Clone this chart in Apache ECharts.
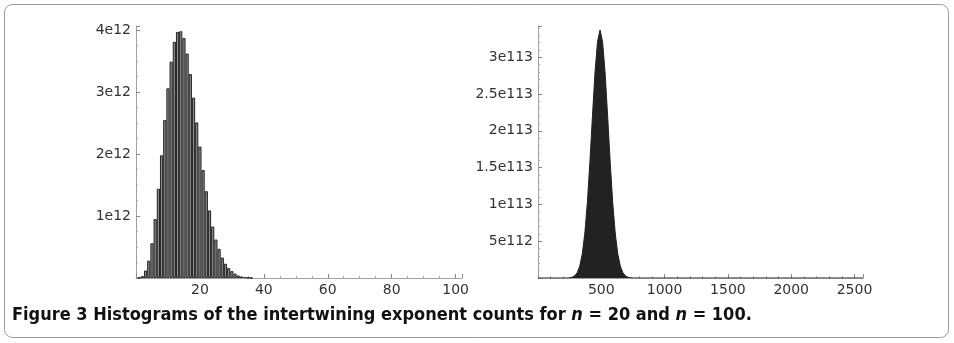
<!DOCTYPE html>
<html>
<head>
<meta charset="utf-8">
<script src="https://cdn.jsdelivr.net/npm/echarts@6/dist/echarts.min.js"></script>
<style>
  html, body { margin: 0; padding: 0; background: #fff; }
  #chart { width: 954px; height: 343px; }
</style>
</head>
<body>
<div id="chart"></div>
<script>
// n = 20 histogram: exponent k and count (in units of 1e12)
const leftExponents = [1, 2, 3, 4, 5, 6, 7, 8, 9, 10, 11, 12, 13, 14, 15, 16, 17, 18,
  19, 20, 21, 22, 23, 24, 25, 26, 27, 28, 29, 30, 31, 32, 33, 34, 35, 36]
const leftCounts = [0.005, 0.03, 0.12, 0.28, 0.56, 0.95, 1.44, 1.98, 2.55, 3.06, 3.49, 3.81,
  3.97, 3.98, 3.87, 3.62, 3.29, 2.91, 2.51, 2.12, 1.74, 1.40, 1.09, 0.83, 0.62, 0.47,
  0.33, 0.23, 0.16, 0.11, 0.07, 0.04, 0.025, 0.015, 0.008, 0.004]
const leftYTickLabels = ['1e12', '2e12', '3e12', '4e12']

// n = 100 histogram: exponent and count (in units of 1e113)
const rightExponents = [0, 230, 250, 270, 290, 310, 330, 350, 370, 390, 410, 430, 450, 470,
  490, 510, 530, 550, 570, 590, 610, 630, 650, 670, 690, 710, 730, 750, 2567]
const rightCounts = [0, 0, 0.004, 0.011, 0.03, 0.073, 0.163, 0.33, 0.61, 1.03, 1.58, 2.20,
  2.79, 3.21, 3.37, 3.21, 2.79, 2.20, 1.58, 1.03, 0.61, 0.33, 0.163, 0.073, 0.03, 0.011,
  0.004, 0, 0]
const rightYTickLabels = ['5e112', '1e113', '1.5e113', '2e113', '2.5e113', '3e113']

const axisFont = 'DejaVu Sans'
const axisGray = '#a0a0a0'
const captionFont = "'DejaVu Sans Condensed', 'Liberation Sans', sans-serif"

function valueAxis(gridIndex, min, max, interval, minorSplit, formatter){
  return {
    type: 'value',
    gridIndex: gridIndex,
    min: min,
    max: max,
    interval: interval,
    axisLine: { show: true, onZero: false, lineStyle: { color: axisGray, width: 1 } },
    axisTick: { show: true, inside: true, length: 4, lineStyle: { color: '#888' } },
    minorTick: { show: true, splitNumber: minorSplit, length: 2, lineStyle: { color: '#aaa' } },
    splitLine: { show: false },
    minorSplitLine: { show: false },
    axisLabel: {
      show: true,
      showMinLabel: false,
      showMaxLabel: false,
      margin: 5,
      color: '#333',
      fontFamily: axisFont,
      fontSize: 14,
      formatter: formatter
    }
  }
}

let chart = echarts.init(document.getElementById('chart'))

let option = {
  animation: false,
  title: {
    left: 12,
    top: 306,
    padding: 0,
    text: '{b|Figure 3 Histograms of the intertwining exponent counts for }{i|n}{b| = 20 and }{i|n}{b| = 100.}',
    textStyle: {
      rich: {
        b: { fontFamily: captionFont, fontWeight: 'bold', fontSize: 18, color: '#111' },
        i: { fontFamily: captionFont, fontWeight: 'bold', fontStyle: 'italic', fontSize: 18, color: '#111' }
      }
    }
  },
  graphic: [
    {
      type: 'rect',
      shape: { x: 4.5, y: 4.5, width: 944, height: 333, r: 8 },
      style: { fill: 'none', stroke: '#999', lineWidth: 1 },
      silent: true
    }
  ],
  grid: [
    { left: 136, top: 26, width: 326, height: 252 },
    { left: 538, top: 26, width: 325, height: 252 }
  ],
  xAxis: [
    valueAxis(0, 0, 102, 20, 4, v => String(v)),
    valueAxis(1, 0, 2567, 500, 5, v => String(v))
  ],
  yAxis: [
    valueAxis(0, 0, 4.065, 1, 4, v => leftYTickLabels[Math.round(v) - 1] || ''),
    valueAxis(1, 0, 3.424, 0.5, 5, v => rightYTickLabels[Math.round(v / 0.5) - 1] || '')
  ],
  series: [
    {
      type: 'bar',
      xAxisIndex: 0,
      yAxisIndex: 0,
      barWidth: 3.2,
      data: leftExponents.map((k, i) => [k, leftCounts[i]]),
      itemStyle: { color: '#8a8a8a', borderColor: '#222', borderWidth: 1 }
    },
    {
      type: 'line',
      xAxisIndex: 1,
      yAxisIndex: 1,
      symbol: 'none',
      data: rightExponents.map((x, i) => [x, rightCounts[i]]),
      lineStyle: { color: '#222', width: 1 },
      areaStyle: { color: '#222', opacity: 1 }
    }
  ]
}

chart.setOption(option)
</script>
</body>
</html>
